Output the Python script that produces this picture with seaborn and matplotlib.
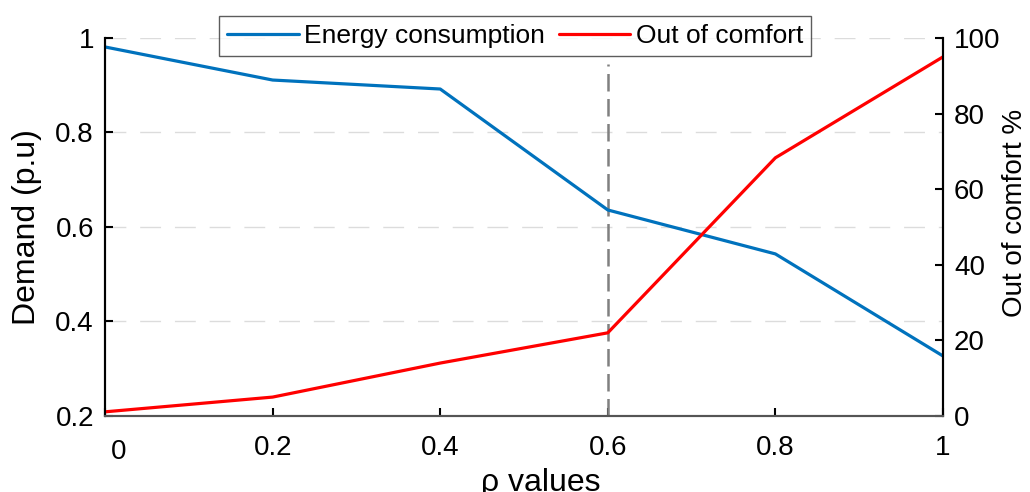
import matplotlib
matplotlib.use("Agg")
import matplotlib.pyplot as plt
import matplotlib.transforms as mtransforms
import seaborn as sns
import pandas as pd

rho = [0.0, 0.2, 0.4, 0.6, 0.8, 1.0]
energy = [0.981, 0.911, 0.892, 0.636, 0.543, 0.327]
out_comfort = [1.1, 5.0, 14.0, 22.0, 68.3, 95.0]
x_ticks = [0, 0.2, 0.4, 0.6, 0.8, 1]
x_ticklabels = ["0", "0.2", "0.4", "0.6", "0.8", "1"]
y1_ticks = [0.2, 0.4, 0.6, 0.8, 1.0]
y1_ticklabels = ["0.2", "0.4", "0.6", "0.8", "1"]
y2_ticks = [0, 20, 40, 60, 80, 100]
marker_x = 0.6

sns.set_theme(style="white")
plt.rcParams['font.family'] = ['Liberation Sans', 'DejaVu Sans']

df = pd.DataFrame({"rho": rho, "energy": energy, "comfort": out_comfort})

fig = plt.figure(figsize=(10.3, 4.92), dpi=100)
ax1 = fig.add_axes([0.102, 0.1545, 0.8135, 0.7683])
ax2 = ax1.twinx()

blue = "#0072BD"
red = "#FF0000"

ax1.vlines(marker_x, 0.2, 0.945, colors="#808080", linestyles=(0, (7, 3)), linewidth=1.8, zorder=1)
sns.lineplot(data=df, x="rho", y="energy", ax=ax1, color=blue, linewidth=2.3, label="Energy consumption", legend=False)
sns.lineplot(data=df, x="rho", y="comfort", ax=ax2, color=red, linewidth=2.3, label="Out of comfort", legend=False)

ax1.set_xlim(0, 1)
ax1.set_ylim(0.2, 1.0)
ax2.set_ylim(0, 100)
ax1.set_xticks(x_ticks)
ax1.set_xticklabels(x_ticklabels)
ax1.set_yticks(y1_ticks)
ax1.set_yticklabels(y1_ticklabels)
ax2.set_yticks(y2_ticks)

for y in y1_ticks[1:]:
    ax1.axhline(y, color="#dcdcdc", linestyle=(0, (15, 10)), linewidth=1.0, zorder=0)

fs = 20
ax1.tick_params(axis="both", direction="in", length=6, width=1.5, labelsize=fs, colors="black",
                labelcolor="black", left=True, bottom=True, pad=8)
ax1.tick_params(axis="x", pad=14)
ax2.tick_params(axis="y", direction="in", length=6, width=1.5, labelsize=fs, colors="black",
                labelcolor="black", right=True, pad=8)

xl = ax1.get_xticklabels()
xl[0].set_horizontalalignment("left")
xl[0].set_transform(xl[0].get_transform() + mtransforms.ScaledTranslation(6 / 100, -4 / 100, fig.dpi_scale_trans))

for ax in (ax1, ax2):
    ax.spines["top"].set_visible(False)
    ax.spines["left"].set_color("black")
    ax.spines["right"].set_color("black")
    ax.spines["bottom"].set_color("#555555")
    for s in ax.spines.values():
        s.set_linewidth(1.5)
ax1.patch.set_alpha(0)

ax1.set_xlabel("ρ values", fontsize=23, color="black", va="top")
ax1.xaxis.set_label_coords(0.52, -0.138)
ax1.set_ylabel("Demand (p.u)", fontsize=23, color="black", va="bottom")
ax1.yaxis.set_label_coords(-0.075, 0.5)
ax2.set_ylabel("Out of comfort %", fontsize=20, color="black", rotation=90, va="bottom")
ax2.yaxis.set_label_coords(1.102, 0.537)
ax1.grid(False)
ax2.grid(False)

h1, l1 = ax1.get_legend_handles_labels()
h2, l2 = ax2.get_legend_handles_labels()
leg = ax2.legend(h1 + h2, l1 + l2, loc="center", bbox_to_anchor=(0.4895, 1.005), ncol=2,
                 fontsize=19, frameon=True, fancybox=False, edgecolor="#333333",
                 handlelength=2.7, handletextpad=0.2, columnspacing=0.55, borderpad=0.3,
                 borderaxespad=0)
leg.get_frame().set_linewidth(1.0)
for t in leg.get_texts():
    t.set_color("black")

fig.savefig("out.png", dpi=100)
